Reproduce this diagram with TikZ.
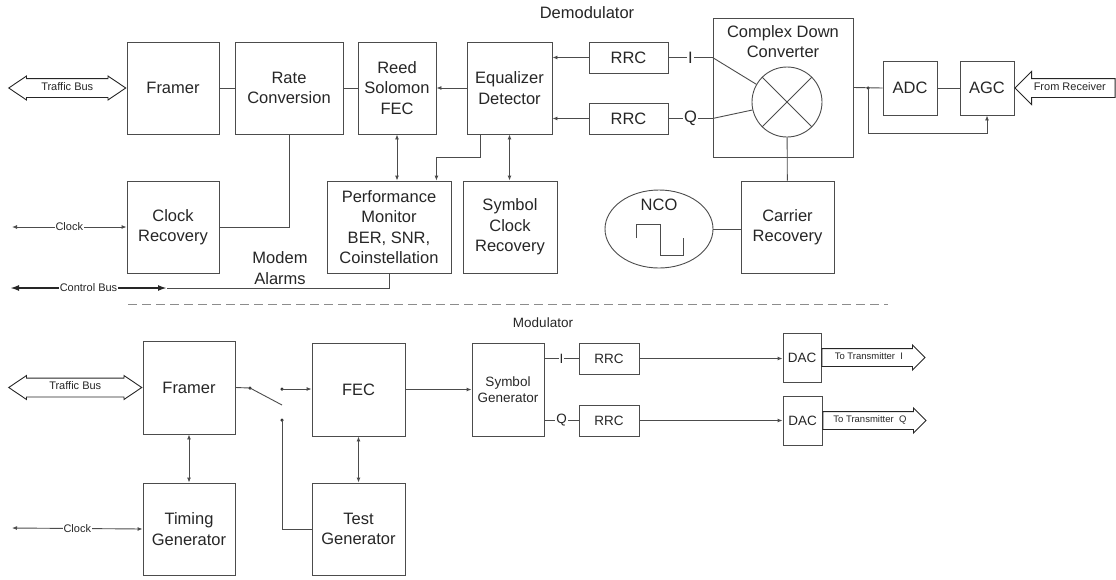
\documentclass[tikz,border=0pt]{standalone}
\usepackage{fontspec}
\setmainfont{Liberation Sans}
\usetikzlibrary{arrows.meta, positioning, calc, shapes.geometric, shapes.arrows}
\tikzset{
  box/.style    = {draw=black!70, line width=0.9pt, align=center, text=black!85,
                   font=\fontsize{16.5}{20.5}\selectfont, inner sep=1pt},
  sq/.style     = {box, minimum width=92pt, minimum height=92pt},
  mbox/.style   = {box, font=\fontsize{13.5}{16.5}\selectfont},
  wire/.style   = {draw=black!70, line width=0.9pt},
  sig/.style    = {wire, -{Latex[length=5pt, width=4pt]}},
  dsig/.style   = {wire, {Latex[length=5pt, width=4pt]}-{Latex[length=5pt, width=4pt]}},
  cbus/.style   = {draw=black!85, line width=2pt, {Latex[length=9pt, width=6pt]}-{Latex[length=9pt, width=6pt]}},
  bus/.style    = {draw=black!85, line width=0.9pt, text=black!85, inner xsep=2pt,
                   inner ysep=2pt, text height=9pt, text depth=5pt,
                   font=\fontsize{11}{13}\selectfont},
  lab/.style    = {font=\fontsize{11}{13}\selectfont, fill=white, inner sep=1pt, text=black!85},
  iq/.style     = {font=\fontsize{16.5}{20}\selectfont, fill=white, inner sep=1pt, text=black!85},
  miq/.style    = {iq, font=\fontsize{13.5}{16}\selectfont},
  title/.style  = {font=\fontsize{16.5}{20.5}\selectfont, text=black!85, align=center},
  dot/.style    = {circle, fill=black!80, inner sep=0pt, minimum size=3.5pt},
}

\begin{document}
\begin{tikzpicture}[x=1pt, y=-1pt]
  \useasboundingbox (0,0) rectangle (1116,579);

  % demodulator
  \node[title] (demod) at (587,13) {Demodulator};
  \node[sq] (frmd) at (173,88) {Framer};
  \node[bus, double arrow, double arrow head extend=2.5pt, double arrow tip angle=68,
        minimum height=117pt, left=0pt of frmd] (tbd) {Traffic Bus};
  \node[box, minimum width=108pt, minimum height=92pt] (rate) at (289,88) {Rate\\Conversion};
  \node[box, minimum width=78pt, minimum height=92pt] (rs) at (397,88) {Reed\\Solomon\\FEC};
  \node[box, minimum width=85pt, minimum height=92pt] (eq) at (509.5,88) {Equalizer\\Detector};
  \node[box, minimum width=79pt, minimum height=31pt] (rrci) at (628.5,57.5) {RRC};
  \node[box, minimum width=79pt, minimum height=31pt] (rrcq) at (628.5,118.5) {RRC};
  \node[box, minimum width=140pt, minimum height=139pt] (cdc) at (783,87.5) {};
  \node[title] (cdct) at (cdc.north |- 0,41.5) {Complex Down\\Converter};
  \node[circle, draw=black!70, line width=0.9pt, minimum size=70pt] (mix) at (787,102) {};
  \node[dot] (jn) at (868,88) {};
  \node[box, minimum width=54pt, minimum height=54pt] (adc) at (910,88) {ADC};
  \node[box, minimum width=54pt, minimum height=54pt] (agc) at (987,88) {AGC};
  \node[bus, single arrow, shape border rotate=180, single arrow head extend=7pt,
        minimum height=100pt, right=0pt of agc] (rx) {From Receiver};

  \node[sq] (clkrec) at (173,227) {Clock\\Recovery};
  \node[box, minimum width=124pt, minimum height=92pt] (pm) at (389,227)
    {Performance\\Monitor\\BER, SNR,\\Coinstellation};
  \node[box, minimum width=94pt, minimum height=92pt] (scr) at (510,227) {Symbol\\Clock\\Recovery};
  \node[ellipse, draw=black!70, line width=0.9pt, minimum width=108pt, minimum height=78pt] (nco) at (659,229) {};
  \node[title] (ncot) at ([yshift=24pt]nco.center) {NCO};
  \node[box, minimum width=93pt, minimum height=92pt] (carrier) at (787.5,227) {Carrier\\Recovery};
  \node[title] (alarm) at (280,268) {Modem\\Alarms};

  \coordinate (clkl) at (12,227);
  \coordinate (cbl) at (10,288);
  \coordinate (cbm) at (167,288);

  \draw[wire] (frmd) -- (rate);
  \draw[wire] (rate) -- (rs);
  \draw[sig] (eq) -- (rs);
  \draw[sig] (rrci.west) -- (rrci.west -| eq.east);
  \draw[sig] (rrcq.west) -- (rrcq.west -| eq.east);
  \draw[wire] (rrci.east) -- node[iq] {I} (rrci.east -| cdc.west) -- (mix.150);
  \draw[wire] (rrcq.east) -- node[iq] {Q} (rrcq.east -| cdc.west) -- (mix.193);
  \draw[wire] (mix.45) -- (mix.225) (mix.135) -- (mix.315);
  \draw[wire] (mix) -- (carrier);
  \draw[wire] (cdc.east) -- (adc.west);
  \draw[wire] (adc) -- (agc);
  \draw[sig] (jn.center) -- ++(0,45) -| (agc.south);
  \draw[wire] (rate.south) |- (clkrec.east);
  \draw[dsig] (clkl) -- node[lab] {Clock} (clkrec.west);
  \draw[dsig] (rs.south) -- (rs.south |- pm.north);
  \draw[sig] ([xshift=14pt]eq.south west) -- ++(0,23) -| (rs.east |- pm.north);
  \draw[dsig] (eq.south) -- (eq.south |- scr.north);
  \draw[wire] ([shift={(-23,9)}]nco.center) -- ++(0,-14) -- ++(24,0) -- ++(0,31) -- ++(23,0) -- ++(0,-17);
  \draw[wire] (nco.east) -- (nco.east -| carrier.west);
  \draw[wire] (pm.south) |- (cbm);
  \draw[cbus] (cbl) -- node[lab] {Control Bus} (cbm);

  % split
  \coordinate (dl) at (128,304);
  \coordinate (dr) at (888,304);
  \draw[black!45, line width=1pt, dash pattern=on 9pt off 5pt] (dl) -- (dr);

  % modulator
  \node[title, font=\fontsize{13.5}{16}\selectfont] (mod) at (543,323) {Modulator};
  \node[sq, minimum height=93pt] (frmm) at (189,387.5) {Framer};
  \node[bus, double arrow, double arrow head extend=2.5pt, double arrow tip angle=68,
        minimum height=133pt, left=0pt of frmm] (tbm) {Traffic Bus};
  \node[sq] (tgen) at (189,529) {Timing\\Generator};
  \node[sq, minimum width=93pt, minimum height=93pt] (fec) at (358.5,389.5) {FEC};
  \node[sq, minimum width=93pt] (test) at (358.5,529) {Test\\Generator};
  \node[mbox, minimum width=72pt, minimum height=93pt] (sym) at (508,389.5) {Symbol\\Generator};
  \node[mbox, minimum width=60pt, minimum height=31pt] (rrcim) at (609,358.5) {RRC};
  \node[mbox, minimum width=60pt, minimum height=31pt] (rrcqm) at (609,420.5) {RRC};
  \node[mbox, minimum width=38pt, minimum height=49pt] (daci) at (802,357.5) {DAC};
  \node[mbox, minimum width=39pt, minimum height=49pt] (dacq) at (802.5,420.5) {DAC};
  \node[bus, single arrow, single arrow head extend=3.5pt, minimum height=103pt,
        text height=8.5pt, text depth=4.5pt,
        font=\fontsize{9.5}{11}\selectfont, right=0pt of daci] (txi) {To Transmitter~ I};
  \node[bus, single arrow, single arrow head extend=3.5pt, minimum height=103pt,
        text height=8.5pt, text depth=4.5pt,
        font=\fontsize{9.5}{11}\selectfont, right=0pt of dacq] (txq) {To Transmitter~ Q};

  \node[dot] (s1) at (250,388) {};
  \node[dot] (s2) at (282,389) {};
  \node[dot] (s3) at (282,420) {};
  \coordinate (blade) at (282,405);
  \coordinate (clkl2) at (12,528);

  \draw[wire] (frmm.east) -- (s1.center) -- (blade);
  \draw[sig] (s2.center) -- (s2.center -| fec.west);
  \draw[wire] (s3.center) |- (test.west);
  \draw[dsig] (frmm) -- (tgen);
  \draw[dsig] (fec) -- (test);
  \draw[sig] (fec) -- (sym);
  \draw[wire] (sym.east |- rrcim) -- node[miq] {I} (rrcim.west);
  \draw[wire] (sym.east |- rrcqm) -- node[miq] {Q} (rrcqm.west);
  \draw[sig] (rrcim) -- (rrcim -| daci.west);
  \draw[sig] (rrcqm) -- (rrcqm -| dacq.west);
  \draw[dsig] (clkl2) -- node[lab] {Clock} (tgen.west);
\end{tikzpicture}
\end{document}
